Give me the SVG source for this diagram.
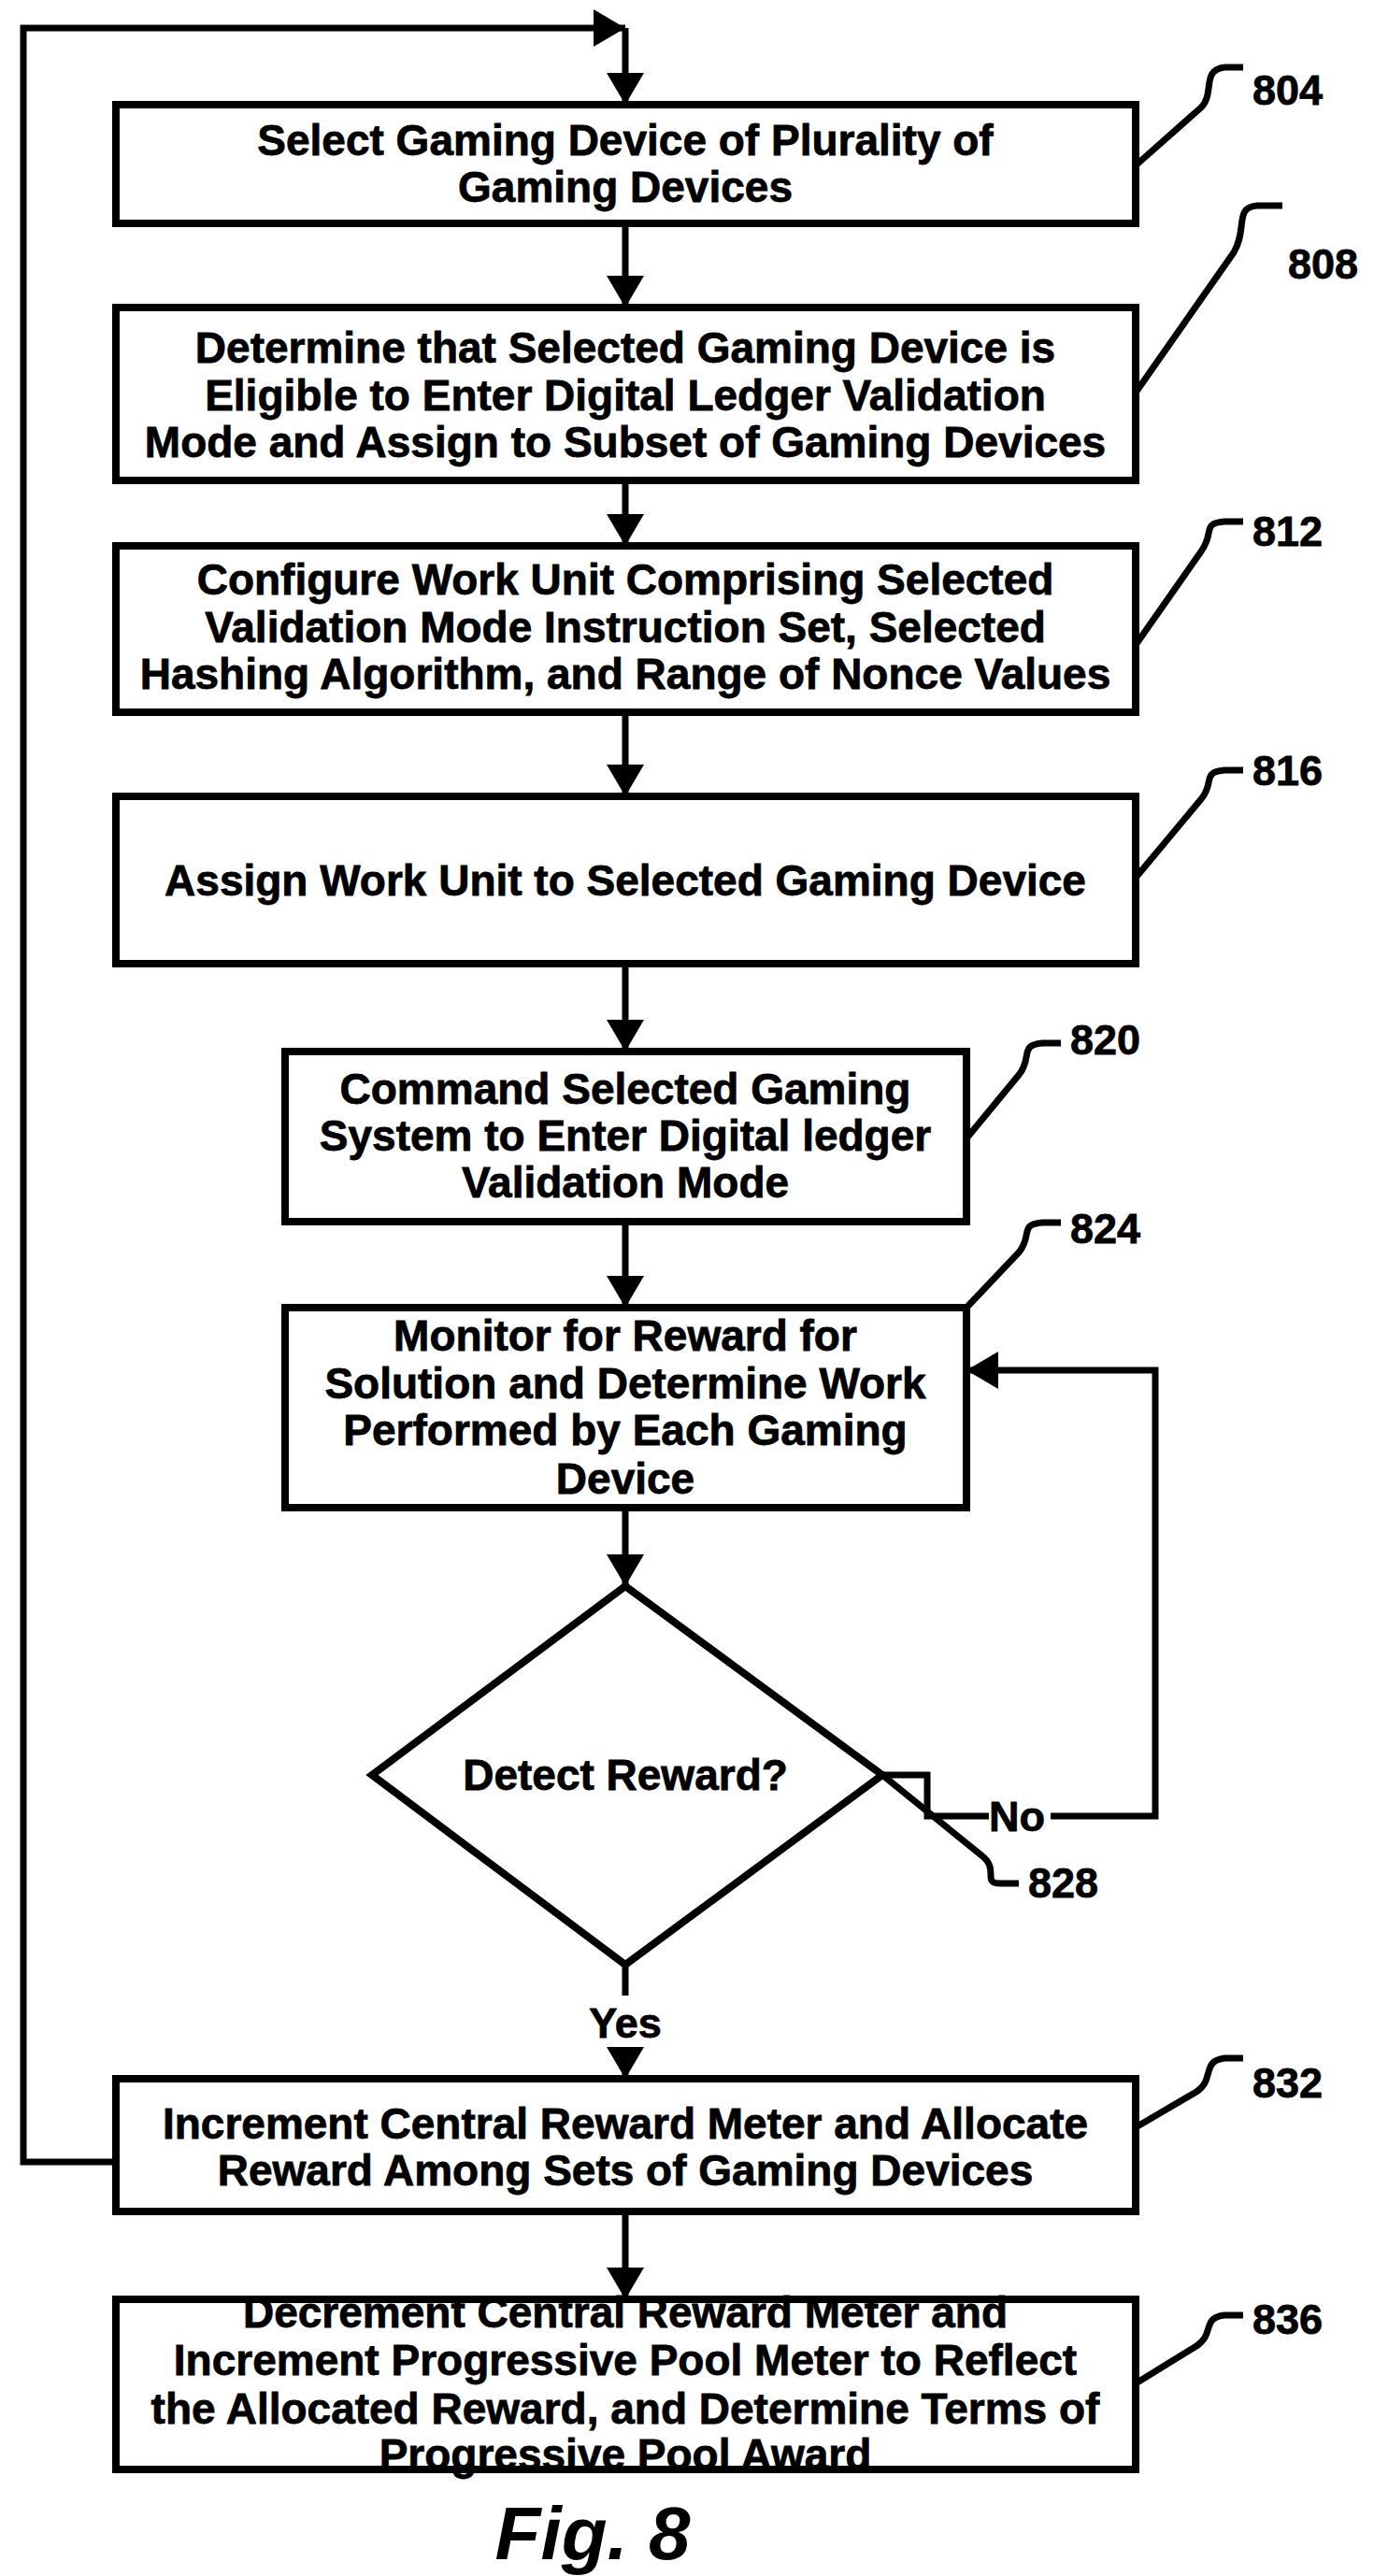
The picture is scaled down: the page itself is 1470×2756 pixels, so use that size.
<svg xmlns="http://www.w3.org/2000/svg" width="1470" height="2756" viewBox="0 0 1470 2756">
<style>
.b{fill:#fff;stroke:#000;stroke-width:8}
.t{font-family:"Liberation Sans",Arial,sans-serif;font-weight:bold;font-size:46px;text-anchor:middle;fill:#000;stroke:#000;stroke-width:0.8}
.n{font-family:"Liberation Sans",Arial,sans-serif;font-weight:bold;font-size:45px;fill:#000;stroke:#000;stroke-width:0.8}
.c{fill:none;stroke:#000;stroke-width:7}
.l{fill:none;stroke:#000;stroke-width:7}
</style>
<defs>
<marker id="a" markerUnits="userSpaceOnUse" markerWidth="34" markerHeight="40" refX="34" refY="20" orient="auto"><path d="M0,0 L34,20 L0,40 z" fill="#000"/></marker>
</defs>
<g id="connectors">
<path class="c" d="M124 2313 H25 V30 H669" marker-end="url(#a)"/>
<path class="c" d="M669 30 V112" marker-end="url(#a)"/>
<path class="c" d="M669 239 V329" marker-end="url(#a)"/>
<path class="c" d="M669 514 V584" marker-end="url(#a)"/>
<path class="c" d="M669 762 V852" marker-end="url(#a)"/>
<path class="c" d="M669 1031 V1125" marker-end="url(#a)"/>
<path class="c" d="M669 1307 V1399" marker-end="url(#a)"/>
<path class="c" d="M669 1613 V1697" marker-end="url(#a)"/>
<path class="c" d="M669 2102 V2135"/>
<path class="c" d="M669 2190 V2224" marker-end="url(#a)"/>
<path class="c" d="M669 2366 V2460" marker-end="url(#a)"/>
<path class="c" d="M944 1899 H992 V1943 H1058"/>
<path class="c" d="M1124 1943 H1236 V1466 H1034" marker-end="url(#a)"/>
<text class="n" x="1058" y="1959">No</text>
<text class="n" x="669" y="2180" text-anchor="middle">Yes</text>
</g>
<g id="n804"><rect class="b" x="124" y="112" width="1091" height="127"/>
<text class="t" x="669" y="166">Select Gaming Device of Plurality of</text><text class="t" x="669" y="216">Gaming Devices</text></g>
<g id="n808"><rect class="b" x="124" y="329" width="1091" height="185"/>
<text class="t" x="669" y="388">Determine that Selected Gaming Device is</text><text class="t" x="669" y="439">Eligible to Enter Digital Ledger Validation</text><text class="t" x="669" y="489">Mode and Assign to Subset of Gaming Devices</text></g>
<g id="n812"><rect class="b" x="124" y="584" width="1091" height="178"/>
<text class="t" x="669" y="636">Configure Work Unit Comprising Selected</text><text class="t" x="669" y="687">Validation Mode Instruction Set, Selected</text><text class="t" x="669" y="737">Hashing Algorithm, and Range of Nonce Values</text></g>
<g id="n816"><rect class="b" x="124" y="852" width="1091" height="179"/>
<text class="t" x="669" y="958">Assign Work Unit to Selected Gaming Device</text></g>
<g id="n820"><rect class="b" x="305" y="1125" width="729" height="182"/>
<text class="t" x="669" y="1181">Command Selected Gaming</text><text class="t" x="669" y="1231">System to Enter Digital ledger</text><text class="t" x="669" y="1281">Validation Mode</text></g>
<g id="n824"><rect class="b" x="305" y="1399" width="729" height="214"/>
<text class="t" x="669" y="1445">Monitor for Reward for</text><text class="t" x="669" y="1496">Solution and Determine Work</text><text class="t" x="669" y="1546">Performed by Each Gaming</text><text class="t" x="669" y="1598">Device</text></g>
<g id="n828"><path class="b" d="M669 1697 L944 1899 L669 2102 L398 1899 Z"/>
<text class="t" x="669" y="1915">Detect Reward?</text></g>
<g id="n832"><rect class="b" x="124" y="2224" width="1091" height="142"/>
<text class="t" x="669" y="2288">Increment Central Reward Meter and Allocate</text><text class="t" x="669" y="2338">Reward Among Sets of Gaming Devices</text></g>
<g id="n836"><rect class="b" x="124" y="2460" width="1091" height="182"/>
<text class="t" x="669" y="2490">Decrement Central Reward Meter and</text><text class="t" x="669" y="2541">Increment Progressive Pool Meter to Reflect</text><text class="t" x="669" y="2593">the Allocated Reward, and Determine Terms of</text><text class="t" x="669" y="2642">Progressive Pool Award</text></g>
<g id="labels">
<path class="l" d="M1215 177 L1285 115 C1300 100 1285 75 1310 72 H1330"/><text class="n" x="1340" y="112">804</text>
<path class="l" d="M1215 420 L1320 270 C1335 245 1320 222 1345 220 H1372"/><text class="n" x="1378" y="298">808</text>
<path class="l" d="M1215 690 L1285 590 C1300 570 1285 560 1310 558 H1330"/><text class="n" x="1340" y="584">812</text>
<path class="l" d="M1215 939 L1285 855 C1300 838 1285 826 1310 824 H1330"/><text class="n" x="1340" y="840">816</text>
<path class="l" d="M1034 1218 L1090 1150 C1105 1132 1090 1118 1115 1116 H1135"/><text class="n" x="1145" y="1128">820</text>
<path class="l" d="M1034 1399 L1090 1340 C1105 1322 1090 1310 1115 1308 H1135"/><text class="n" x="1145" y="1330">824</text>
<path class="l" d="M944 1899 L1050 1985 C1070 2000 1050 2015 1070 2015 H1090"/><text class="n" x="1100" y="2030">828</text>
<path class="l" d="M1215 2276 L1280 2238 C1300 2225 1285 2205 1310 2202 H1330"/><text class="n" x="1340" y="2244">832</text>
<path class="l" d="M1215 2550 L1280 2510 C1300 2497 1285 2480 1310 2477 H1330"/><text class="n" x="1340" y="2497">836</text>
<text x="634" y="2738" text-anchor="middle" style="font-family:'Liberation Sans',Arial,sans-serif;font-weight:bold;font-style:italic;font-size:80px">Fig. 8</text>
</g>
</svg>
